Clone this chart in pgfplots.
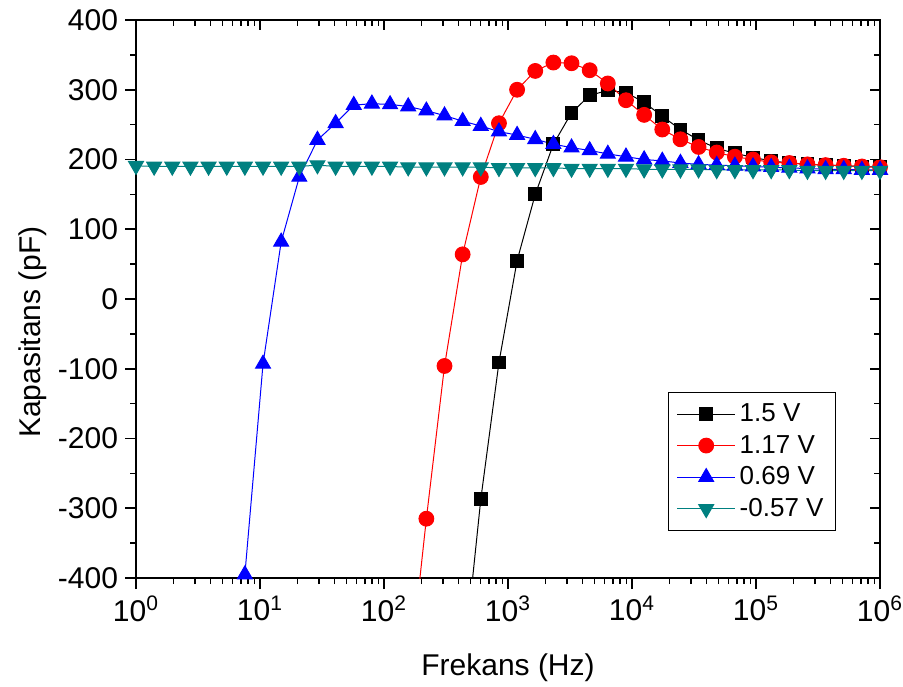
\documentclass[border=0pt]{standalone}
\usepackage{fontspec}
\setmainfont{Liberation Sans}
\usepackage{pgfplots}
\pgfplotsset{compat=1.18}
\definecolor{tealc}{RGB}{0,128,128}
\begin{document}
\begin{tikzpicture}
\useasboundingbox (-68pt,-54pt) rectangle (383.5pt,289pt);
\begin{axis}[
  scale only axis, width=372pt, height=279pt,
  xmode=log, xmin=1, xmax=1e6, ymin=-400, ymax=400,
  xtick={1,10,100,1000,10000,100000,1000000},
  xticklabels={10\textsuperscript{0},10\textsuperscript{1},10\textsuperscript{2},10\textsuperscript{3},10\textsuperscript{4},10\textsuperscript{5},10\textsuperscript{6}},
  ytick={-400,-300,-200,-100,0,100,200,300,400},
  yticklabels={-400,-300,-200,-100,0,100,200,300,400},
  minor y tick num=1,
  tick align=outside, xtick pos=left, ytick pos=left,
  major tick length=5.5pt, minor tick length=3pt,
  axis line style={line width=1pt},
  every tick/.style={black, line width=0.8pt},
  tick label style={font=\fontsize{15}{17}\selectfont},
  label style={font=\fontsize{15}{17}\selectfont},
  xlabel={Frekans (Hz)}, ylabel={Kapasitans (pF)},
  x label style={at={(axis description cs:0.5,-0.174)}, anchor=base},
  y label style={at={(axis description cs:-0.129,0.441)}, anchor=base},
  legend style={at={(axis description cs:0.9409,0.0842)}, anchor=south east,
    font=\fontsize{13}{15}\selectfont, draw=black, line width=0.5pt,
    cells={anchor=west}, row sep=1.3pt, inner xsep=4pt, inner ysep=3.5pt},
  legend image code/.code={\draw[mark repeat=2,mark phase=2,#1] plot coordinates {(0pt,0pt)(14.5pt,0pt)(29pt,0pt)};},
]
\addplot[black, line width=0.5pt, mark=square*, mark size=3.2pt, mark options={solid}] coordinates {
(430.83,-538)(603.47,-287)(845.28,-91)(1184.0,55)(1658.4,150)(2323.0,222)(3253.9,267)(4557.8,292)(6384.1,299)(8942.2,296)(12525,282)(17545,262)(24575,243)(34422,228)(48216,216)(67537,209)(94599,203)(132510,198)(185610,195)(259990,193)(364160,192)(510080,191)(714470,190)(1000000,189)};
\addlegendentry{1.5 V}
\addplot[red, line width=0.5pt, mark=*, mark size=3.7pt, mark options={solid}] coordinates {
(156.77,-555)(219.59,-315)(307.58,-96)(430.83,64)(603.47,175)(845.28,252)(1184.0,300)(1658.4,327)(2323.0,339)(3253.9,338)(4557.8,328)(6384.1,309)(8942.2,285)(12525,264)(17545,243)(24575,229)(34422,218)(48216,210)(67537,204)(94599,200)(132510,196)(185610,195)(259990,193)(364160,192)(510080,191)(714470,190)(1000000,189)};
\addlegendentry{1.17 V}
\addplot[blue, line width=0.5pt, mark=triangle*, mark size=4.3pt, mark options={solid}] coordinates {
(5.3919,-700)(7.5526,-395)(10.579,-93)(14.818,82)(20.756,175)(29.073,228)(40.723,252)(57.041,278)(79.898,280)(111.92,279)(156.77,276)(219.59,270)(307.58,263)(430.83,255)(603.47,248)(845.28,240)(1184.0,235)(1658.4,229)(2323.0,222)(3253.9,217)(4557.8,213)(6384.1,208)(8942.2,204)(12525,200)(17545,198)(24575,195)(34422,193)(48216,192)(67537,191)(94599,190)(132510,189)(185610,188)(259990,187)(364160,186)(510080,186)(714470,185)(1000000,185)};
\addlegendentry{0.69 V}
\addplot[tealc, line width=0.5pt, mark=triangle*, mark size=4.3pt, mark options={solid, rotate=180}] coordinates {
(1,191)(1.4007,190)(1.9620,190)(2.7482,190)(3.8494,190)(5.3919,190)(7.5526,190)(10.579,190)(14.818,190)(20.756,190)(29.073,192)(40.723,190)(57.041,190)(79.898,190)(111.92,190)(156.77,189)(219.59,189)(307.58,189)(430.83,189)(603.47,189)(845.28,188)(1184.0,188)(1658.4,188)(2323.0,188)(3253.9,187)(4557.8,187)(6384.1,187)(8942.2,187)(12525,186)(17545,186)(24575,186)(34422,186)(48216,185)(67537,185)(94599,185)(132510,185)(185610,185)(259990,184)(364160,184)(510080,184)(714470,184)(1000000,184)};
\addlegendentry{-0.57 V}
\end{axis}
\begin{axis}[
  scale only axis, width=372pt, height=279pt,
  xmode=log, xmin=1, xmax=1e6, ymin=-400, ymax=400,
  xtick={1,10,100,1000,10000,100000,1000000},
  ytick={-400,-300,-200,-100,0,100,200,300,400},
  minor y tick num=1,
  xticklabels={}, yticklabels={},
  tick align=inside, xtick pos=right, ytick pos=right,
  major tick length=5pt, minor tick length=3pt,
  axis line style={draw=none},
  every tick/.style={black, line width=0.8pt},
]
\end{axis}
\end{tikzpicture}
\end{document}
